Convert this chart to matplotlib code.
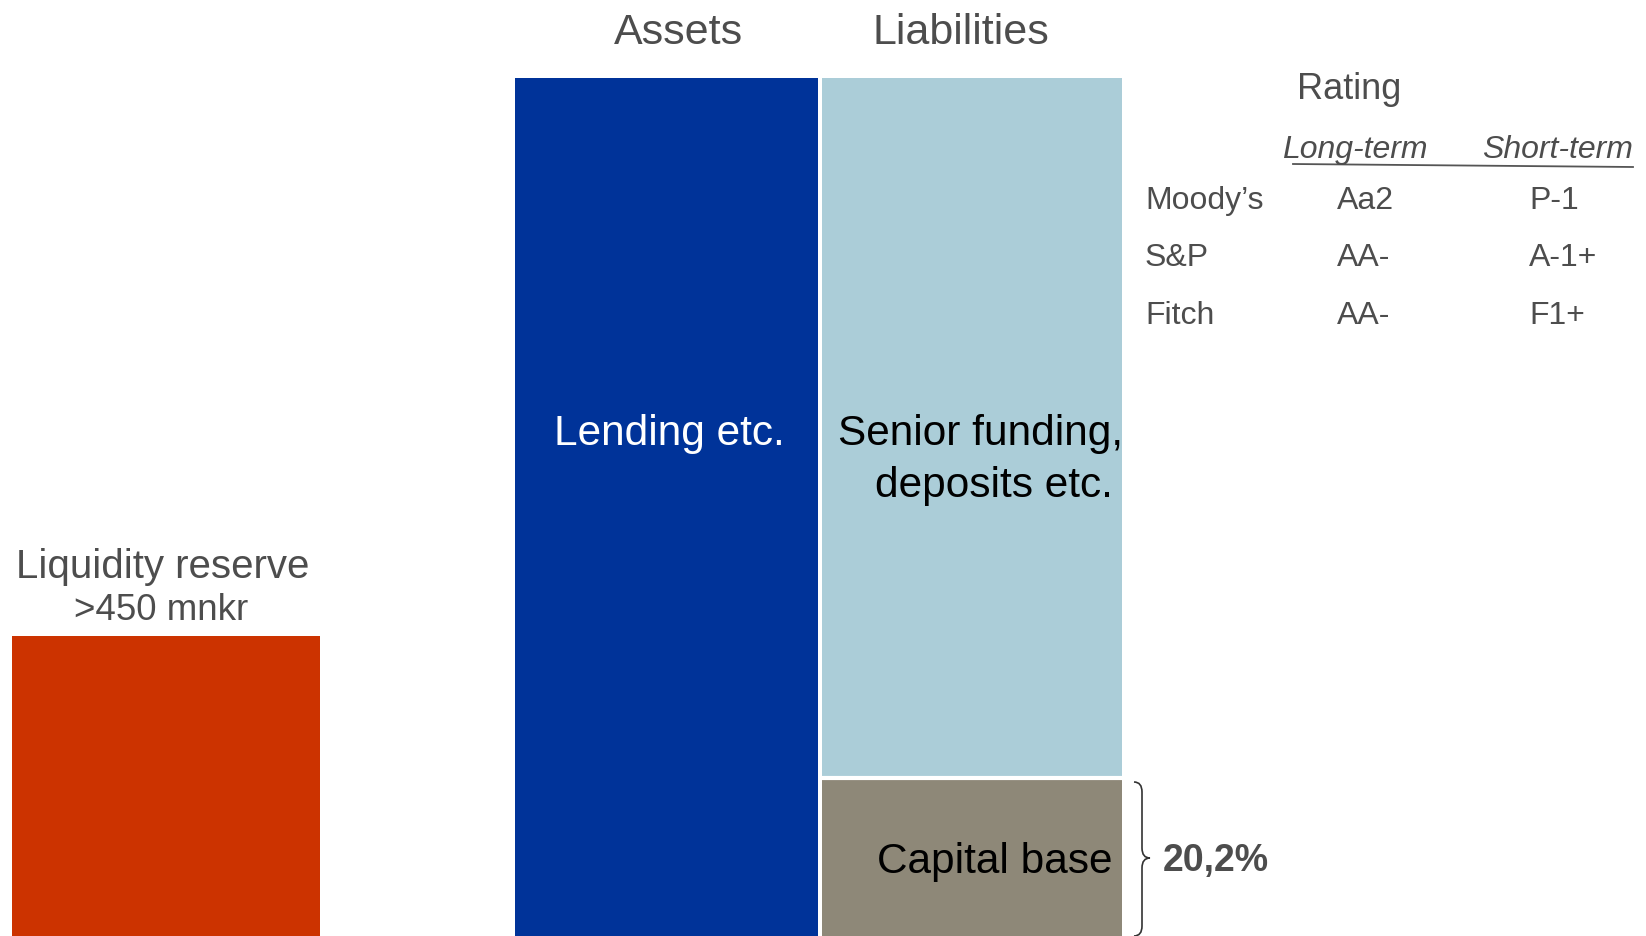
import matplotlib.pyplot as plt
from matplotlib.path import Path
from matplotlib.patches import PathPatch

plt.rcParams['font.family'] = ['Liberation Sans', 'DejaVu Sans']

# balans (udio ukupne bilance = 100)
imovina = [100.0]
kapital = 20.2
seniorno = 100.0 - kapital
likvidna_rezerva = 36.6
kapital_tekst = "20,2%"

# rejting tablica
agencije = ["Moody\u2019s", "S&P", "Fitch"]
dugorocni = ["Aa2", "AA-", "AA-"]
kratkorocni = ["P-1", "A-1+", "F1+"]

crvena = "#cc3300"
plava = "#003399"
svijetloplava = "#abcdd8"
siva = "#8e8878"
tekst_siva = "#4d4d4d"

fig = plt.figure(figsize=(16.46, 9.36), dpi=100)

# os sa stupcima: x u pikselima, y u postocima bilance (dno je odrezano)
ax = fig.add_axes([0, 0, 1, 1])
ax.set_xlim(0, 1646)
ax.set_ylim(2.5, 108.86)
ax.axis("off")

ax.bar([12], [likvidna_rezerva], width=308, align="edge", color=crvena)
ax.bar([515], imovina, width=303, align="edge", color=plava)
ax.bar([822], [kapital], width=300, align="edge", color=siva)
ax.bar([822], [seniorno], width=300, bottom=kapital, align="edge", color=svijetloplava)
ax.hlines(kapital + 0.2, 822, 1122, color="white", lw=3)

# os za tekst u pikselima
t = fig.add_axes([0, 0, 1, 1], facecolor="none")
t.set_xlim(0, 1646)
t.set_ylim(936, 0)
t.axis("off")

t.text(678, 44, "Assets", fontsize=31, color=tekst_siva, ha="center", va="baseline")
t.text(961, 44, "Liabilities", fontsize=31, color=tekst_siva, ha="center", va="baseline")

t.text(669, 445, "Lending etc.", fontsize=30.5, color="white", ha="center", va="baseline")
t.text(1123, 445, "Senior funding,", fontsize=30.5, color="black", ha="right", va="baseline")
t.text(1113, 497, "deposits etc.", fontsize=30.5, color="black", ha="right", va="baseline")
t.text(1113, 873, "Capital base", fontsize=30.5, color="black", ha="right", va="baseline")

t.text(163, 578, "Liquidity reserve", fontsize=29, color=tekst_siva, ha="center", va="baseline")
t.text(161, 620, ">450 mnkr", fontsize=26.5, color=tekst_siva, ha="center", va="baseline")

# vitičasta zagrada uz kapital
verts = [(1134, 782), (1142, 782), (1142, 792),
         (1142, 848), (1142, 858), (1150, 858),
         (1142, 858), (1142, 868), (1142, 926),
         (1142, 936), (1134, 936)]
codes = [Path.MOVETO, Path.CURVE3, Path.CURVE3,
         Path.LINETO, Path.CURVE3, Path.CURVE3,
         Path.CURVE3, Path.CURVE3, Path.LINETO,
         Path.CURVE3, Path.CURVE3]
t.add_patch(PathPatch(Path(verts, codes), fill=False, ec="#333333", lw=1.2))
t.text(1163, 871, kapital_tekst, fontsize=27, fontweight="bold", color=tekst_siva,
       ha="left", va="baseline")

# rejting
t.text(1349, 99, "Rating", fontsize=26, color=tekst_siva, ha="center", va="baseline")
t.text(1355, 158, "Long-term", fontsize=23, style="italic", color=tekst_siva,
       ha="center", va="baseline")
t.text(1558, 158, "Short-term", fontsize=23, style="italic", color=tekst_siva,
       ha="center", va="baseline")
t.plot([1293, 1633], [164, 167], color="#555555", lw=1.3)

redovi = [209, 266, 324]
for y, ag, d, k in zip(redovi, agencije, dugorocni, kratkorocni):
    t.text(1145, y, ag, fontsize=23, color=tekst_siva, ha="left", va="baseline")
    t.text(1337, y, d, fontsize=23, color=tekst_siva, ha="left", va="baseline")
    t.text(1529, y, k, fontsize=23, color=tekst_siva, ha="left", va="baseline")

fig.savefig("out.png", dpi=100, facecolor="white")
